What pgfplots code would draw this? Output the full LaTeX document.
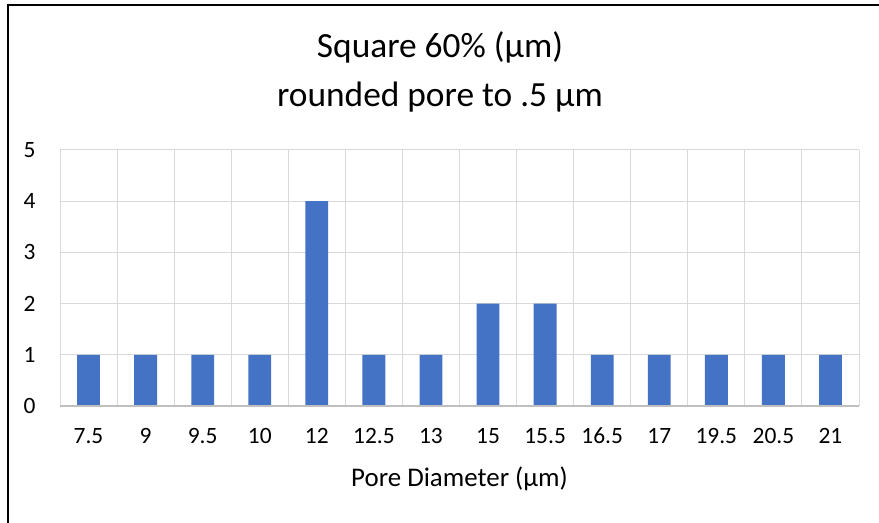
\documentclass[border=0pt]{standalone}
\usepackage{pgfplots}
\pgfplotsset{compat=1.18}
\usepackage{fontspec}
\setmainfont{Carlito}
\definecolor{barblue}{HTML}{4472C4}
\definecolor{gridgray}{HTML}{D9D9D9}
\definecolor{axgray}{HTML}{BFBFBF}
\begin{document}
\begin{tikzpicture}[x=1bp,y=1bp]
\useasboundingbox (0,0) rectangle (879,523);
\draw[black,line width=2bp] (7.5,0) -- (7.5,517.5) -- (879,517.5);
\node[font=\fontsize{35.5}{40}\selectfont] at (440,476) {Square 60\% (µm)};
\node[font=\fontsize{35.5}{40}\selectfont] at (440,426) {rounded pore to .5 µm};
\begin{axis}[
  at={(60bp,117bp)}, anchor=south west,
  scale only axis, width=799bp, height=256bp,
  xmin=-0.5, xmax=13.5, ymin=0, ymax=5,
  xtick={0,...,13},
  xticklabels={7.5,9,9.5,10,12,12.5,13,15,15.5,16.5,17,19.5,20.5,21},
  minor xtick={-0.5,0.5,...,13.5},
  ytick={0,1,2,3,4,5},
  xminorgrids=true, ymajorgrids=true,
  minor grid style={gridgray,line width=1bp},
  major grid style={gridgray,line width=1bp},
  axis line style={draw=none},
  tick style={draw=none},
  minor tick length=0pt, major tick length=0pt,
  /pgf/number format/assume math mode=true,
  ticklabel style={font=\fontsize{23.5}{28}\selectfont},
  xticklabel style={yshift=-18bp, text height=16bp, text depth=4bp},
  yticklabel style={xshift=-21bp},
  xlabel={Pore Diameter (µm)},
  xlabel style={font=\fontsize{27}{32}\selectfont, yshift=-12bp},
  clip=false,
]
\addplot[ybar, bar width=0.4, fill=barblue, draw=none] coordinates {
(0,1) (1,1) (2,1) (3,1) (4,4) (5,1) (6,1) (7,2) (8,2) (9,1) (10,1) (11,1) (12,1) (13,1)};
\draw[axgray,line width=1.2bp] (axis cs:-0.5,0) -- (axis cs:13.5,0);
\end{axis}
\end{tikzpicture}
\end{document}
